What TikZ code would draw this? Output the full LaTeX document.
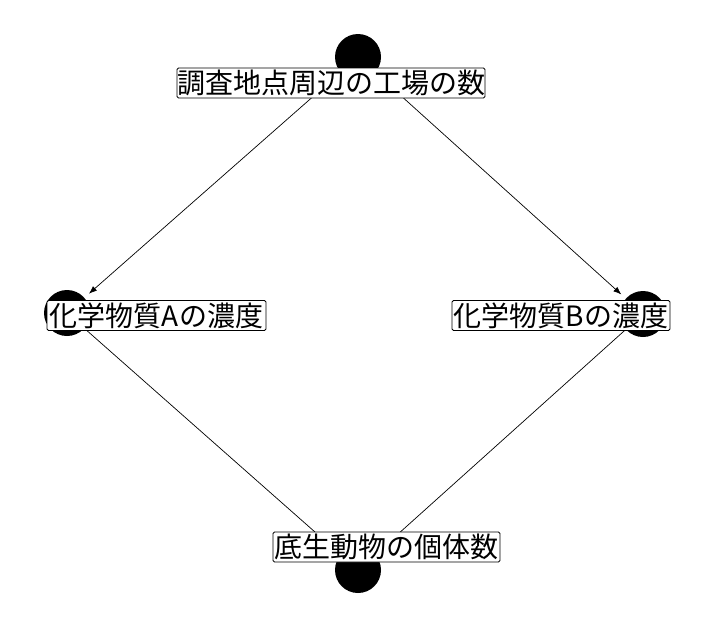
\documentclass[tikz,border=0pt]{standalone}
\usepackage{fontspec}
\setmainfont{Noto Sans CJK JP}
\usetikzlibrary{arrows.meta}
\tikzset{
    vertex/.style = {circle, fill = black, minimum size = 46pt, inner sep = 0pt},
    lbl/.style = {draw, fill = white, rounded corners = 1.5pt, line width = 0.8pt, inner sep = 0pt, minimum height = 30pt, font = \fontsize{28}{28}\selectfont},
    link/.style = {line width = 0.7pt},
}
\begin{document}
\begin{tikzpicture}[x = 1pt, y = -1pt]
    \useasboundingbox (0,0) rectangle (714,635);
    \node[vertex] (factories) at (358,57) {};
    \node[vertex] (chemA) at (67,313) {};
    \node[vertex] (chemB) at (643,314) {};
    \node[vertex] (benthos) at (358,570) {};
    \begin{scope}[style = link]
        \draw[-{Latex[length = 8pt, width = 6pt]}, shorten >= 6pt] (factories) -- (chemA);
        \draw[-{Latex[length = 8pt, width = 6pt]}, shorten >= 6pt] (factories) -- (chemB);
        \draw (chemA) -- (benthos);
        \draw (chemB) -- (benthos);
    \end{scope}
    \node[lbl, minimum width = 308pt] (factoriesText) at (331,83) {調査地点周辺の工場の数};
    \node[lbl, minimum width = 219pt] (chemAText) at (156.5,315.5) {化学物質Aの濃度};
    \node[lbl, minimum width = 218pt] (chemBText) at (561,315.5) {化学物質Bの濃度};
    \node[lbl, minimum width = 227pt] (benthosText) at (386.5,547) {底生動物の個体数};
\end{tikzpicture}
\end{document}
